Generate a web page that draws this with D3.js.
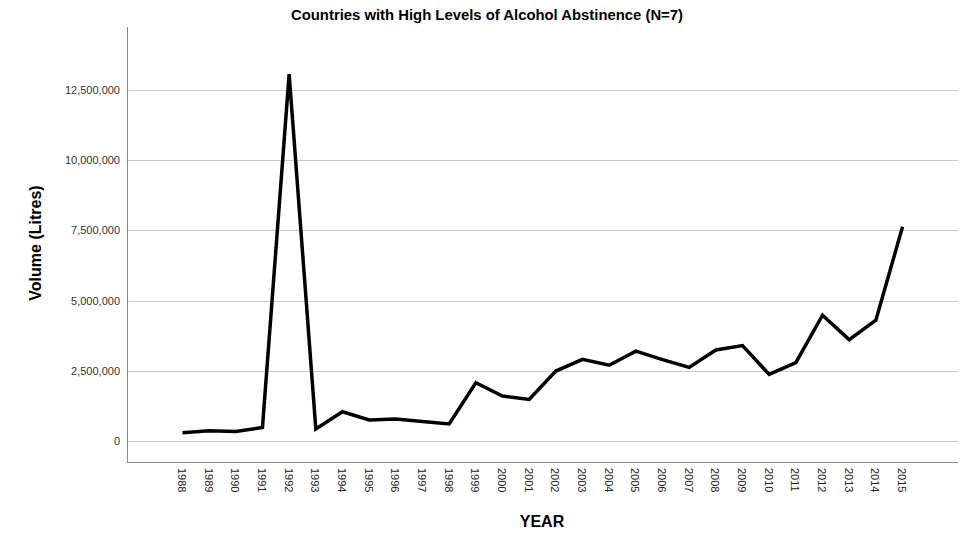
<!DOCTYPE html>
<html>
<head>
<meta charset="utf-8">
<script src="https://cdn.jsdelivr.net/npm/d3@7"></script>
<style>
  html, body { margin: 0; padding: 0; background: #fff; }
  svg { display: block; }
</style>
</head>
<body>
<svg id="chart" width="967" height="533"></svg>
<script>
const years = [1988,1989,1990,1991,1992,1993,1994,1995,1996,1997,1998,1999,2000,2001,2002,2003,2004,2005,2006,2007,2008,2009,2010,2011,2012,2013,2014,2015];
const volumes = [295000,360000,335000,480000,13070000,430000,1040000,750000,785000,690000,605000,2076000,1600000,1480000,2490000,2910000,2700000,3200000,2900000,2620000,3240000,3400000,2370000,2790000,4480000,3610000,4300000,7630000];
const yTicks = [0,2500000,5000000,7500000,10000000,12500000];
const titleText = "Countries with High Levels of Alcohol Abstinence (N=7)";
const xTitle = "YEAR";
const yTitle = "Volume (Litres)";

(function () {
const svg = d3.select("#chart");
const mLeft = 127, mRight = 958, mTop = 27, mBottom = 462;

const x = d3.scalePoint().domain(years).range([mLeft, mRight]).padding(2.08);
const y = d3.scaleLinear().domain([-750000, 14750000]).range([mBottom, mTop]);
const fmt = d3.format(",");

// gridlines
svg.append("g").selectAll("line").data(yTicks).join("line")
  .attr("x1", mLeft).attr("x2", mRight)
  .attr("y1", d => Math.round(y(d)) + 0.5).attr("y2", d => Math.round(y(d)) + 0.5)
  .attr("stroke", "#c8c8c8").attr("stroke-width", 1);

// y axis
const yAxis = svg.append("g").attr("transform", `translate(${mLeft},0)`)
  .call(d3.axisLeft(y).tickValues(yTicks).tickFormat(fmt).tickSize(0).tickPadding(7));
yAxis.select(".domain").remove();
yAxis.selectAll("text").attr("font-family", "Arial, 'Liberation Sans', sans-serif")
  .attr("font-size", 11).attr("fill", "#333");

// axis lines
svg.append("line").attr("x1", mLeft + 0.5).attr("x2", mLeft + 0.5).attr("y1", mTop).attr("y2", mBottom)
  .attr("stroke", "#888").attr("stroke-width", 1);
svg.append("line").attr("x1", mLeft).attr("x2", mRight).attr("y1", mBottom + 0.5).attr("y2", mBottom + 0.5)
  .attr("stroke", "#888").attr("stroke-width", 1);

// x axis
const xAxis = svg.append("g").attr("transform", `translate(0,${mBottom})`)
  .call(d3.axisBottom(x).tickSize(0).tickPadding(0));
xAxis.select(".domain").remove();
xAxis.selectAll("text")
  .attr("font-family", "Arial, 'Liberation Sans', sans-serif")
  .attr("font-size", 11).attr("fill", "#222")
  .attr("text-anchor", "start")
  .attr("dy", null).attr("y", 0)
  .attr("transform", "translate(-5,6) rotate(90)");

// line
const line = d3.line().x((d, i) => x(years[i])).y(d => y(d));
svg.append("path").datum(volumes)
  .attr("d", line).attr("fill", "none")
  .attr("stroke", "#000").attr("stroke-width", 3.5)
  .attr("stroke-linejoin", "miter");

// title
svg.append("text").attr("x", 487).attr("y", 20).attr("text-anchor", "middle")
  .attr("font-family", "'Liberation Sans Narrow', 'Arial Narrow', 'Liberation Sans', sans-serif")
  .attr("font-weight", "bold").attr("font-size", 14).attr("fill", "#000")
  .attr("textLength", 392).attr("lengthAdjust", "spacingAndGlyphs")
  .text(titleText);

// axis titles
svg.append("text").attr("x", 542).attr("y", 527).attr("text-anchor", "middle")
  .attr("font-family", "Arial, 'Liberation Sans', sans-serif")
  .attr("font-weight", "bold").attr("font-size", 16).attr("fill", "#000")
  .text(xTitle);
svg.append("text").attr("transform", "translate(41,243) rotate(-90)").attr("text-anchor", "middle")
  .attr("font-family", "Arial, 'Liberation Sans', sans-serif")
  .attr("font-weight", "bold").attr("font-size", 16).attr("fill", "#000")
  .text(yTitle);
})();
</script>
</body>
</html>
